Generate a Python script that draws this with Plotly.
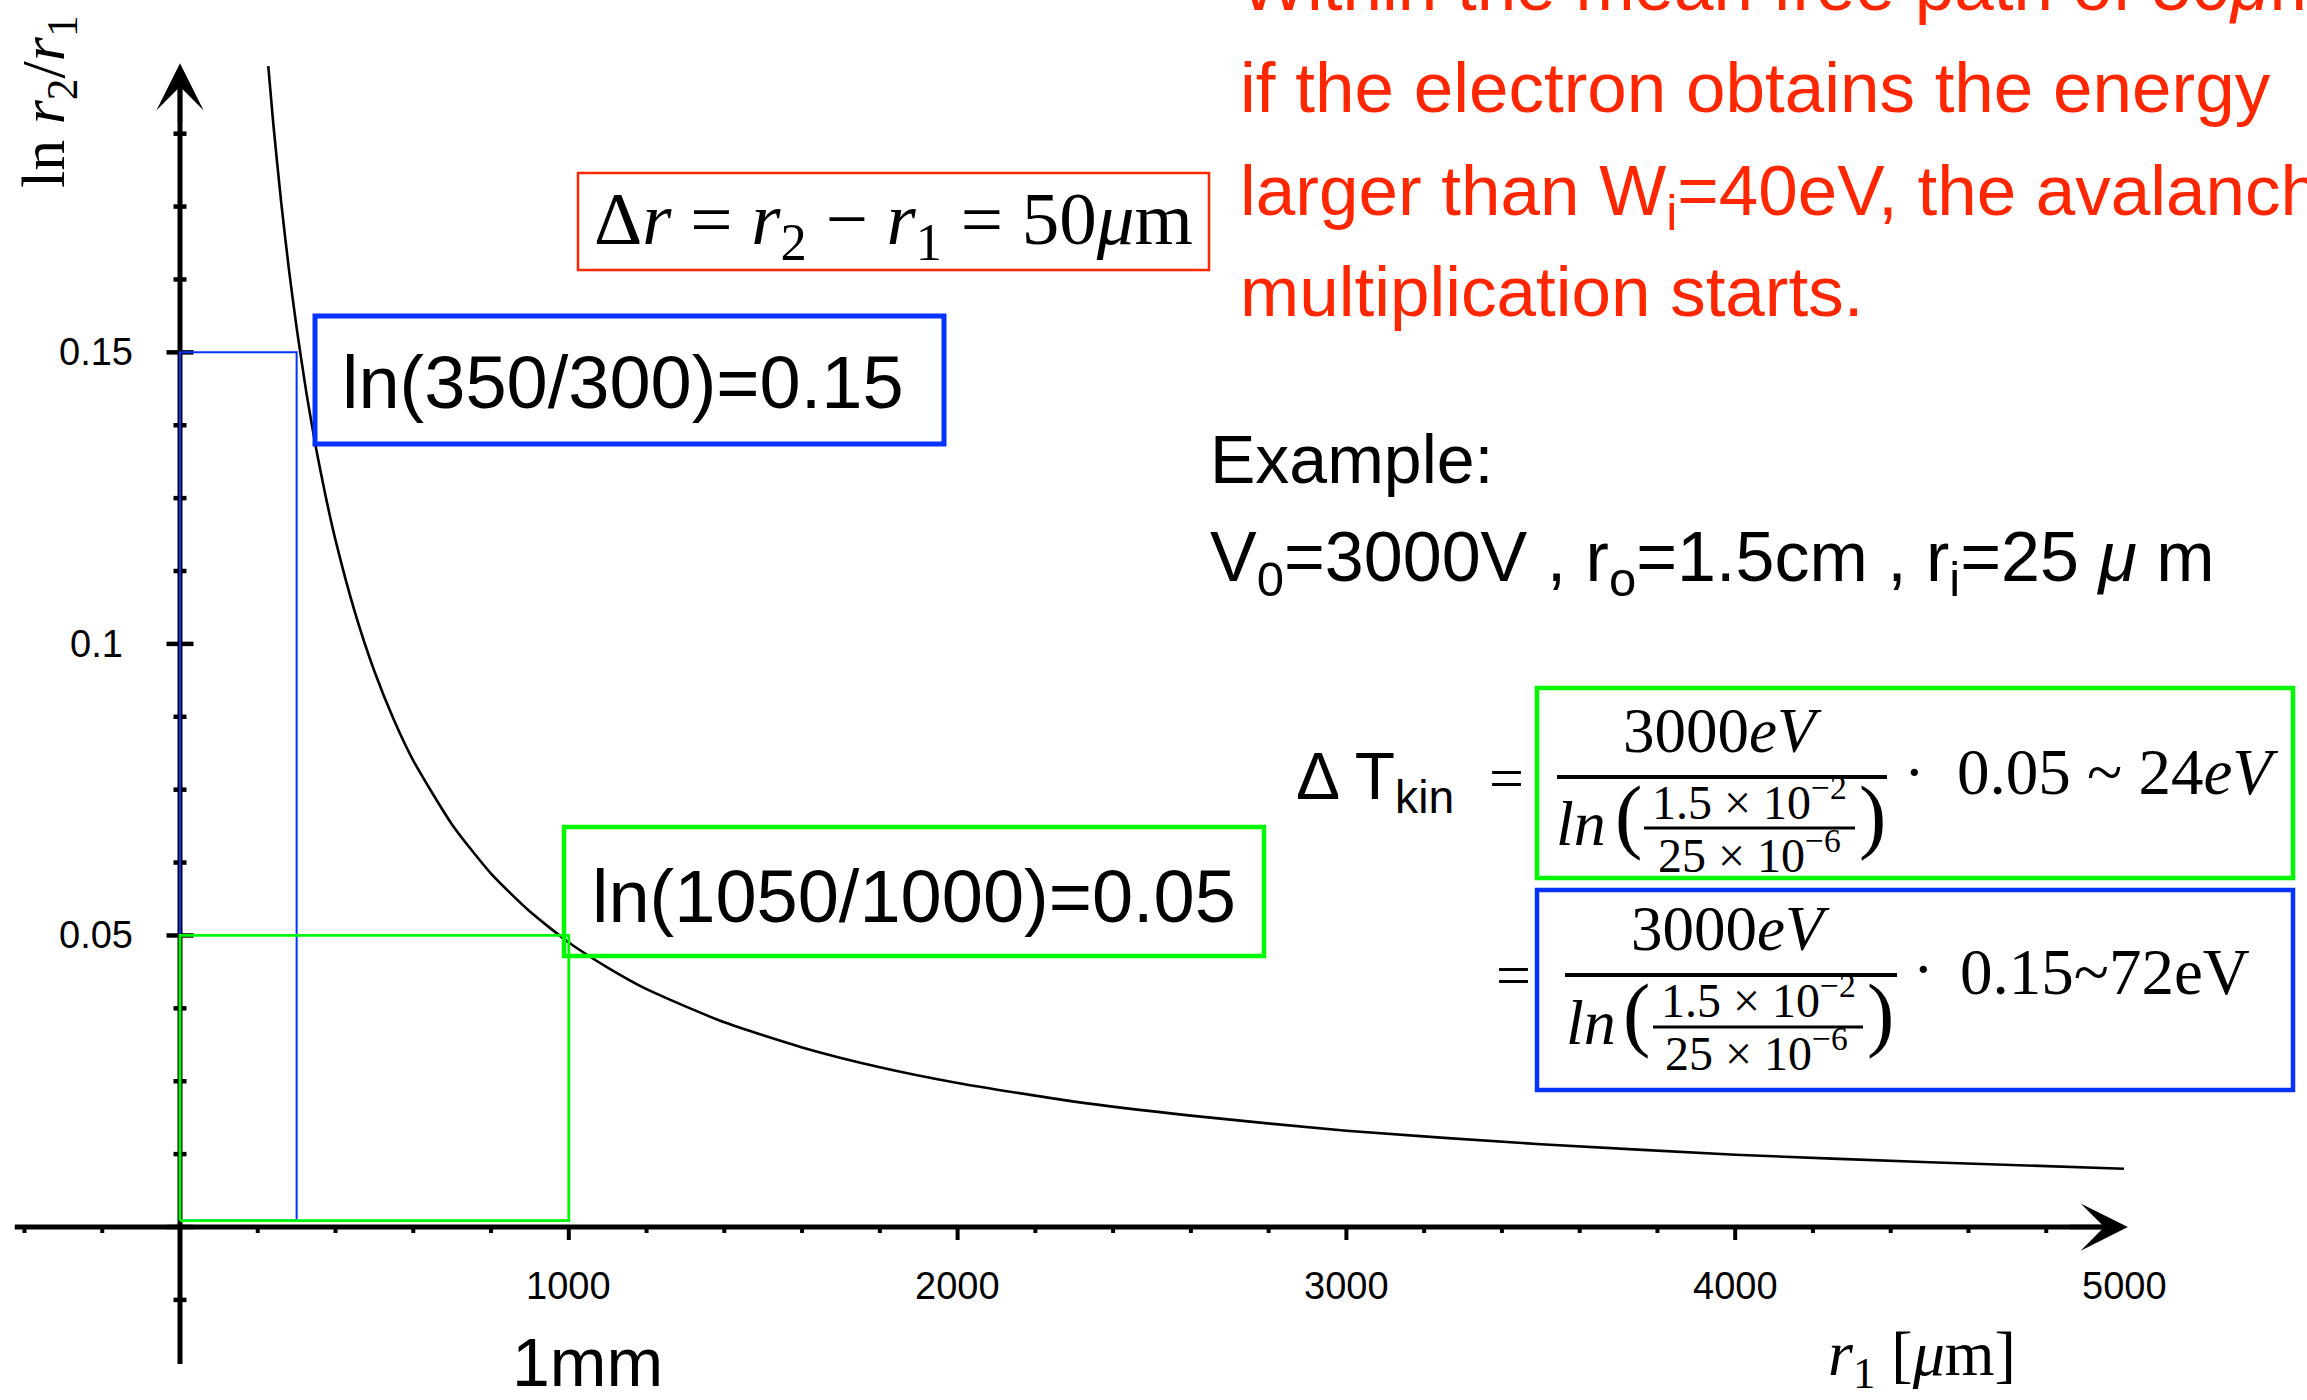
import plotly.graph_objects as go

# ---------------- data ----------------
r1_um = [227, 240, 260, 280, 300, 325, 350, 375, 400, 450, 500, 550, 600, 700, 800,
         900, 1000, 1100, 1200, 1400, 1600, 1800, 2000, 2300, 2600, 3000, 3500,
         4000, 4500, 5000]
ln_ratio = [0.1991, 0.1892, 0.1759, 0.1643, 0.1542, 0.1431, 0.1335, 0.1252, 0.1178,
            0.1054, 0.0953, 0.0870, 0.0800, 0.0690, 0.0606, 0.0541, 0.0488, 0.0445,
            0.0408, 0.0351, 0.0308, 0.0274, 0.0247, 0.0215, 0.0191, 0.0165, 0.0142,
            0.0124, 0.0111, 0.0100]

x_major_ticks = [1000, 2000, 3000, 4000]
x_label_vals = [1000, 2000, 3000, 4000, 5000]
x_label_text = ["1000", "2000", "3000", "4000", "5000"]
x_minor_ticks = [-400, -200, 200, 400, 600, 800, 1200, 1400, 1600, 1800, 2200, 2400,
                 2600, 2800, 3200, 3400, 3600, 3800, 4200, 4400, 4600, 4800]
y_major_ticks = [0.0, 0.05, 0.1, 0.15]
y_label_vals = [0.05, 0.1, 0.15]
y_label_text = ["0.05", "0.1", "0.15"]
y_minor_ticks = [-0.0125, 0.0125, 0.025, 0.0375, 0.0625, 0.075, 0.0875, 0.1125,
                 0.125, 0.1375, 0.1625, 0.175, 0.1875]

blue_r = 300      # r1 for ln(350/300)
blue_val = 0.15
green_r = 1000    # r1 for ln(1050/1000)
green_val = 0.05
rect_base = 0.0011

# ---------------- geometry ----------------
W, H = 2307, 1400
X0PX, Y0PX = 180.0, 1227.0
XS = 0.3888        # px per um
YS = 5831.0        # px per unit
x_range = [(0 - X0PX) / XS, (W - X0PX) / XS]
y_range = [(Y0PX - H) / YS, Y0PX / YS]

X_AXIS_START, X_AXIS_END = -425, 5010
Y_AXIS_START, Y_AXIS_END = -0.0235, 0.1996

BLACK = "black"
RED = "#FF2600"
BLUE = "#0433FF"
GREEN = "#00F900"
SANS = "Liberation Sans"
SERIF = "Liberation Serif"


def dx(px):
    return px / XS


def dy(px):
    return px / YS


def segs_x(ticks, y0, y1):
    xs, ys = [], []
    for t in ticks:
        xs += [t, t, None]
        ys += [y0, y1, None]
    return xs, ys


def segs_y(ticks, x0, x1):
    xs, ys = [], []
    for t in ticks:
        xs += [x0, x1, None]
        ys += [t, t, None]
    return xs, ys


fig = go.Figure()

# axes lines (stop short of the tip, the arrow head covers the rest)
fig.add_trace(go.Scatter(x=[X_AXIS_START, X_AXIS_END - dx(20)], y=[0, 0], mode="lines",
                         line=dict(color=BLACK, width=5), hoverinfo="skip"))
fig.add_trace(go.Scatter(x=[0, 0], y=[Y_AXIS_START, Y_AXIS_END - dy(20)], mode="lines",
                         line=dict(color=BLACK, width=5), hoverinfo="skip"))

# x ticks
mx, my = segs_x(x_minor_ticks, 0, -dy(6))
fig.add_trace(go.Scatter(x=mx, y=my, mode="lines", line=dict(color=BLACK, width=4),
                         hoverinfo="skip"))
Mx, My = segs_x(x_major_ticks, 0, -dy(13))
fig.add_trace(go.Scatter(x=Mx, y=My, mode="lines", line=dict(color=BLACK, width=4),
                         hoverinfo="skip"))
# y ticks
mx, my = segs_y(y_minor_ticks, -dx(6.5), dx(6.5))
fig.add_trace(go.Scatter(x=mx, y=my, mode="lines", line=dict(color=BLACK, width=4.5),
                         hoverinfo="skip"))
Mx, My = segs_y(y_major_ticks, -dx(13.5), dx(13.5))
fig.add_trace(go.Scatter(x=Mx, y=My, mode="lines", line=dict(color=BLACK, width=4.5),
                         hoverinfo="skip"))

# curve
fig.add_trace(go.Scatter(x=r1_um, y=ln_ratio, mode="lines",
                         line=dict(color=BLACK, width=2.6, shape="spline", smoothing=0.6),
                         hoverinfo="skip"))

# blue rectangle (r1 = 300)
fig.add_trace(go.Scatter(x=[0, 0, blue_r, blue_r, 0], y=[rect_base, blue_val, blue_val, rect_base, rect_base],
                         mode="lines", line=dict(color=BLUE, width=2), hoverinfo="skip"))
# green rectangle (r1 = 1000)
fig.add_trace(go.Scatter(x=[0, 0, green_r, green_r, 0], y=[rect_base, green_val, green_val, rect_base, rect_base],
                         mode="lines", line=dict(color=GREEN, width=2.8), hoverinfo="skip"))

# arrow heads
fig.add_annotation(x=X_AXIS_END, y=0, ax=X_AXIS_END - dx(60), ay=0, xref="x", yref="y",
                   axref="x", ayref="y", showarrow=True, arrowhead=3, arrowsize=1.75,
                   arrowwidth=4.5, arrowcolor=BLACK, text="")
fig.add_annotation(x=0, y=Y_AXIS_END, ax=0, ay=Y_AXIS_END - dy(60), xref="x", yref="y",
                   axref="x", ayref="y", showarrow=True, arrowhead=3, arrowsize=1.75,
                   arrowwidth=4.5, arrowcolor=BLACK, text="")

# tick labels
for v, t in zip(x_label_vals, x_label_text):
    fig.add_annotation(x=v, y=1 - 1286 / H, xref="x", yref="paper", text=t, showarrow=False,
                       font=dict(family=SANS, size=38, color=BLACK), xanchor="center", yanchor="middle")
for v, t in zip(y_label_vals, y_label_text):
    fig.add_annotation(x=96 / W, y=v, xref="paper", yref="y", text=t, showarrow=False,
                       font=dict(family=SANS, size=38, color=BLACK), xanchor="center", yanchor="middle")


def txt(s, x, y, size, color=BLACK, family=SANS, xanchor="center", yanchor="middle", angle=0):
    fig.add_annotation(text=s, x=x / W, y=1 - y / H, xref="paper", yref="paper", showarrow=False,
                       font=dict(size=size, color=color, family=family), xanchor=xanchor,
                       yanchor=yanchor, textangle=angle, borderpad=0)


def rect(x0, y0, x1, y1, color, width):
    fig.add_shape(type="rect", x0=x0 / W, x1=x1 / W, y0=1 - y0 / H, y1=1 - y1 / H,
                  xref="paper", yref="paper", line=dict(color=color, width=width),
                  fillcolor="rgba(0,0,0,0)")


def hline(x0, x1, y, width):
    fig.add_shape(type="line", x0=x0 / W, x1=x1 / W, y0=1 - y / H, y1=1 - y / H,
                  xref="paper", yref="paper", line=dict(color=BLACK, width=width))


# axis titles
txt("ln <i>r</i><sub>2</sub>/<i>r</i><sub>1</sub>", 48, 102, 62, family=SERIF, angle=-90)
txt("<i>r</i><sub>1</sub> [<i>μ</i>m]", 1922, 1358, 64, family=SERIF)
txt("1mm", 587, 1362, 68)

# red text
red_lines = ["Within the mean free path of 50<i>μ</i>m,",
             "if the electron obtains the energy",
             "larger than W<sub>i</sub>=40eV, the avalanche",
             "multiplication starts."]
red_centers = [-15, 88, 196, 291]
for s, c in zip(red_lines, red_centers):
    txt(s, 1239, c, 71, color=RED, xanchor="left")

# red box
rect(578, 173, 1209, 270, RED, 2.5)
txt("Δ<i>r</i> = <i>r</i><sub>2</sub> − <i>r</i><sub>1</sub> = 50<i>μ</i>m", 893, 224, 75, family=SERIF)

# blue label
rect(315, 316, 944, 444, BLUE, 5)
txt("ln(350/300)=0.15", 623, 382, 74)

# green label
rect(564, 827, 1264, 956, GREEN, 4.5)
txt("ln(1050/1000)=0.05", 914, 896, 74)

# example
txt("Example:", 1209, 459, 68, xanchor="left")
txt("V<sub>0</sub>=3000V , r<sub>o</sub>=1.5cm , r<sub>i</sub>=25 <i>μ</i> m", 1209, 562, 70, xanchor="left")

# Delta T
txt("Δ T<sub>kin</sub>", 1295, 781, 66, xanchor="left")
txt("=", 1506, 778, 62, family=SERIF)
txt("=", 1513, 975, 62, family=SERIF)

# green formula box
rect(1537, 688, 2293, 878, GREEN, 4.5)
txt("3000<i>eV</i>", 1722, 731, 63, family=SERIF)
hline(1557, 1887, 777, 4)
txt("<i>ln</i>", 1555, 824, 64, family=SERIF, xanchor="left")
txt("(", 1628, 815, 82, family=SERIF)
txt("1.5 × 10<sup>−2</sup>", 1749, 799, 48, family=SERIF)
hline(1644, 1855, 828, 3)
txt("25 × 10<sup>−6</sup>", 1749, 852, 48, family=SERIF)
txt(")", 1872, 815, 82, family=SERIF)
txt("·", 1914, 772, 62, family=SERIF)
txt("0.05 ~ 24<i>eV</i>", 1956, 772, 65, family=SERIF, xanchor="left")

# blue formula box
rect(1537, 890, 2293, 1090, BLUE, 4.5)
txt("3000<i>eV</i>", 1730, 929, 63, family=SERIF)
hline(1565, 1897, 975, 4)
txt("<i>ln</i>", 1565, 1022, 64, family=SERIF, xanchor="left")
txt("(", 1636, 1013, 82, family=SERIF)
txt("1.5 × 10<sup>−2</sup>", 1758, 997, 48, family=SERIF)
hline(1653, 1863, 1027, 3)
txt("25 × 10<sup>−6</sup>", 1756, 1050, 48, family=SERIF)
txt(")", 1880, 1013, 82, family=SERIF)
txt("·", 1923, 969, 62, family=SERIF)
txt("0.15~72eV", 1959, 972, 65, family=SERIF, xanchor="left")

fig.update_layout(
    width=W, height=H, margin=dict(l=0, r=0, t=0, b=0),
    paper_bgcolor="white", plot_bgcolor="white", showlegend=False,
    xaxis=dict(range=x_range, visible=False, domain=[0, 1], fixedrange=True),
    yaxis=dict(range=y_range, visible=False, domain=[0, 1], fixedrange=True),
)

fig.write_html("out.html")
